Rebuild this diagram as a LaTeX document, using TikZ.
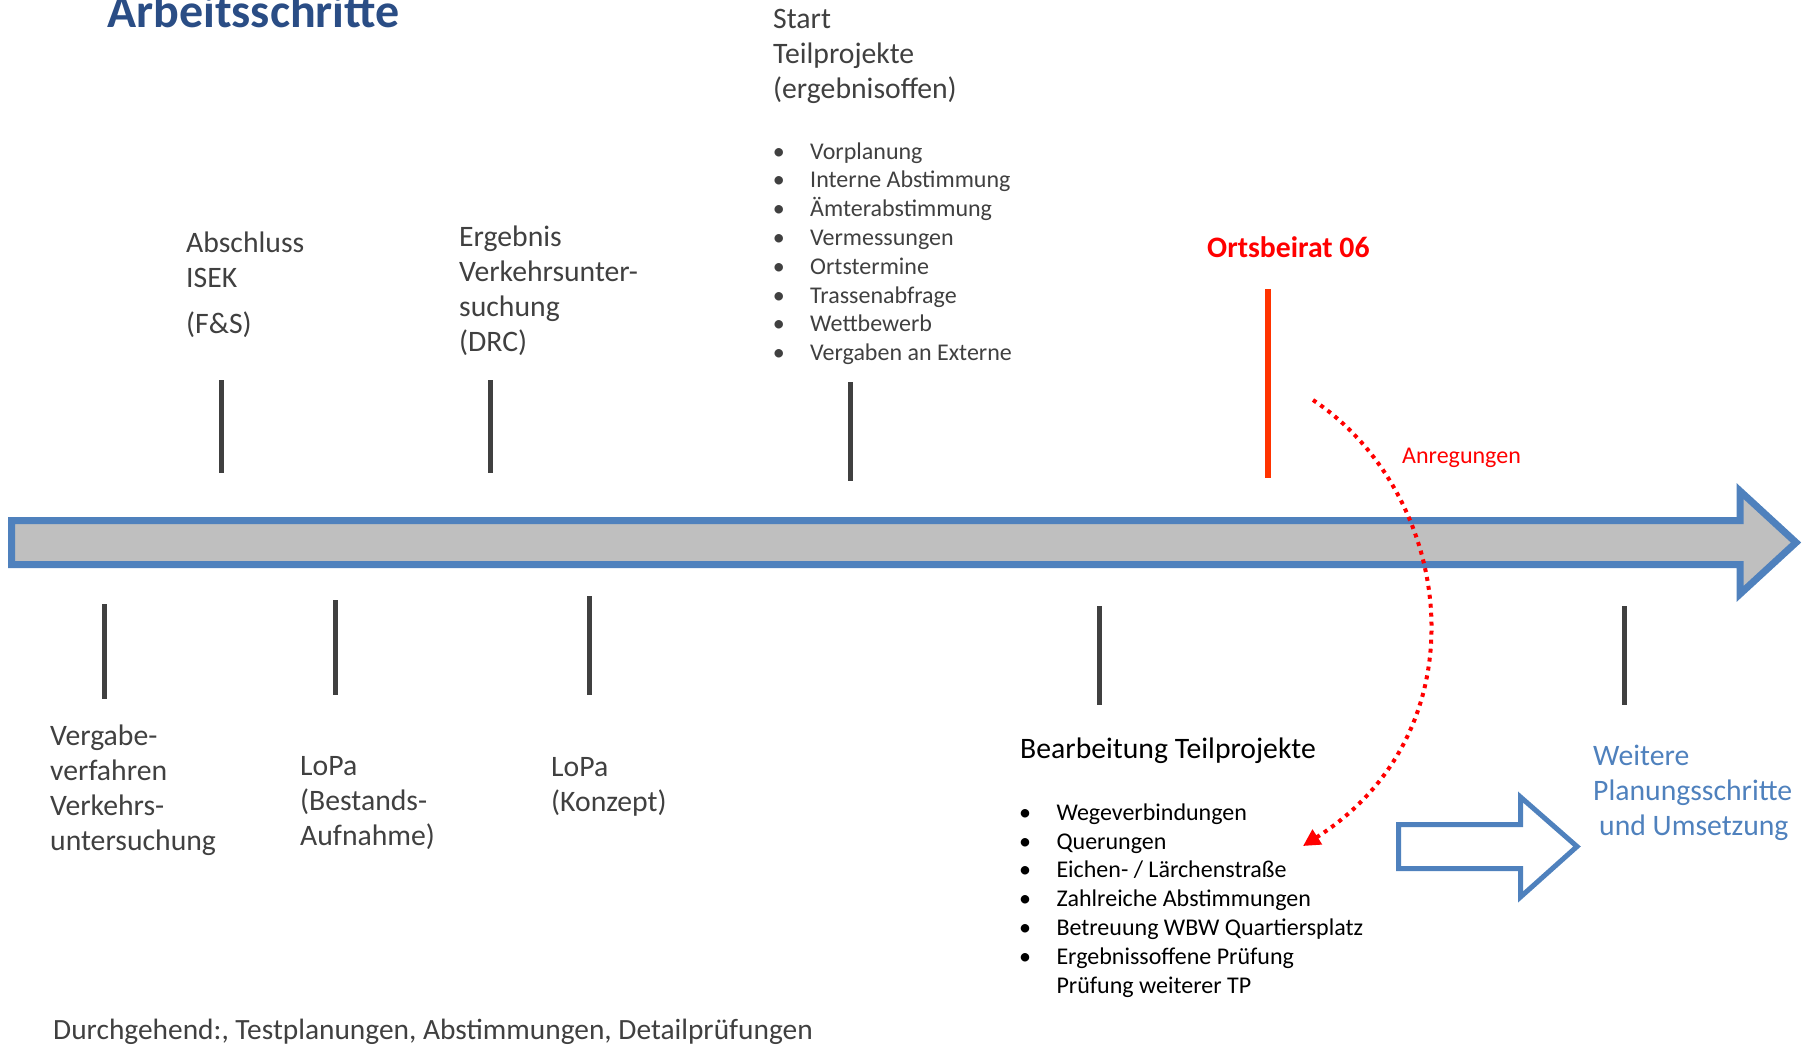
\documentclass[tikz,border=0pt]{standalone}
\usepackage{fontspec}
\setmainfont{Carlito}
\usetikzlibrary{arrows.meta}
\definecolor{txtgray}{HTML}{404040}
\definecolor{tickgray}{HTML}{404040}
\definecolor{titleblue}{HTML}{2A4D85}
\definecolor{arrblue}{HTML}{4F81BD}
\definecolor{barfill}{HTML}{BFBFBF}
\definecolor{tickred}{HTML}{FF3300}
\definecolor{anred}{HTML}{FF0000}
\newcommand{\mybullet}{\makebox[37.3pt][l]{\textbullet}}
\begin{document}
\begin{tikzpicture}[x=1pt,y=-1pt,
  % multi-line nodes: anchor "base" = baseline of the LAST line
  lbl/.style={inner sep=0pt, anchor=base west, align=left, text=txtgray, font=\fontsize{29.7}{35}\selectfont},
  lstA/.style={inner sep=0pt, anchor=base west, align=left, text=txtgray, font=\fontsize{24}{28.8}\selectfont},
  lstB/.style={inner sep=0pt, anchor=base west, align=left, text=black, font=\fontsize{24}{28.8}\selectfont},
  tickline/.style={draw=tickgray, line width=5pt},
  redtick/.style={draw=tickred, line width=6.5pt},
  bigarrow/.style={draw=arrblue, fill=barfill, line width=7pt, line join=miter},
  hollowarrow/.style={draw=arrblue, fill=white, line width=5pt, line join=miter},
  dotted red/.style={draw=anred, line width=4pt, dash pattern=on 4pt off 5pt,
     -{Triangle[length=17pt,width=17pt]}}
]
\useasboundingbox (0,0) rectangle (1810,1047);

% title
\node[inner sep=0pt, anchor=base west, text=titleblue, font=\fontsize{48}{56}\selectfont\bfseries] (title) at (107,27) {Arbeitsschritte};

% main timeline arrow
\draw[bigarrow] (11.5,520.5) -- (1740,520.5) -- (1740,491) -- (1796,542.5)
  -- (1740,594) -- (1740,564.5) -- (11.5,564.5) -- cycle;

% ticks above
\draw[tickline] (221,380) -- (221,473);
\draw[tickline] (490,380) -- (490,473);
\draw[tickline] (850,382) -- (850,481);
\draw[redtick] (1268,289) -- (1268,478);
% ticks below
\draw[tickline] (104,604) -- (104,699);
\draw[tickline] (335,600) -- (335,695);
\draw[tickline] (589,596) -- (589,695);
\draw[tickline] (1099,606) -- (1099,705);
\draw[tickline] (1624,606) -- (1624,705);

% labels above
\node[lbl] (isek) at (186,333) {Abschluss\\ISEK\\[11pt](F\&S)};
\node[lbl] (drc) at (459,351) {Ergebnis\\Verkehrsunter-\\suchung\\(DRC)};
\node[lbl] (start) at (773,98) {Start\\Teilprojekte\\(ergebnisoffen)};
\node[lstA] (startlist) at (772.7,360.6) {\mybullet Vorplanung\\\mybullet Interne Abstimmung\\\mybullet Ämterabstimmung\\\mybullet Vermessungen\\\mybullet Ortstermine\\\mybullet Trassenabfrage\\\mybullet Wettbewerb\\\mybullet Vergaben an Externe};
\node[inner sep=0pt, anchor=base west, text=anred, font=\fontsize{29.7}{35}\selectfont\bfseries] (ob) at (1207,257) {Ortsbeirat 06};
\node[inner sep=0pt, anchor=base west, text=anred, font=\fontsize{24}{28}\selectfont] (anr) at (1402,463) {Anregungen};

% labels below
\node[lbl] (vergabe) at (50,850) {Vergabe-\\verfahren\\Verkehrs-\\untersuchung};
\node[lbl] (lopa1) at (300,845) {LoPa\\(Bestands-\\Aufnahme)};
\node[lbl] (lopa2) at (551,811) {LoPa\\(Konzept)};
\node[lbl, text=black] (bearb) at (1020,758) {Bearbeitung Teilprojekte};
\node[lstB] (bearblist) at (1019,993) {\mybullet Wegeverbindungen\\\mybullet Querungen\\\mybullet Eichen- / Lärchenstraße\\\mybullet Zahlreiche Abstimmungen\\\mybullet Betreuung WBW Quartiersplatz\\\mybullet Ergebnissoffene Prüfung\\\makebox[37.3pt][l]{}Prüfung weiterer TP};
\node[lbl, text=arrblue] (weitere) at (1593,835) {Weitere\\Planungsschritte\\\hspace{6pt}und Umsetzung};
\node[lbl, font=\fontsize{29.4}{35}\selectfont] (durch) at (53,1039) {Durchgehend:, Testplanungen, Abstimmungen, Detailprüfungen};

% hollow arrow
\draw[hollowarrow] (1398.5,824.5) -- (1520.5,824.5) -- (1520.5,797) -- (1577,846.5)
  -- (1520.5,897) -- (1520.5,868.5) -- (1398.5,868.5) -- cycle;

% red dotted feedback curve
\coordinate (anrS) at (1313,400);
\coordinate (anrE) at (1303,846);
\draw[dotted red] (anrS) .. controls (1455,495) and (1485,730) .. (anrE);
\end{tikzpicture}
\end{document}
